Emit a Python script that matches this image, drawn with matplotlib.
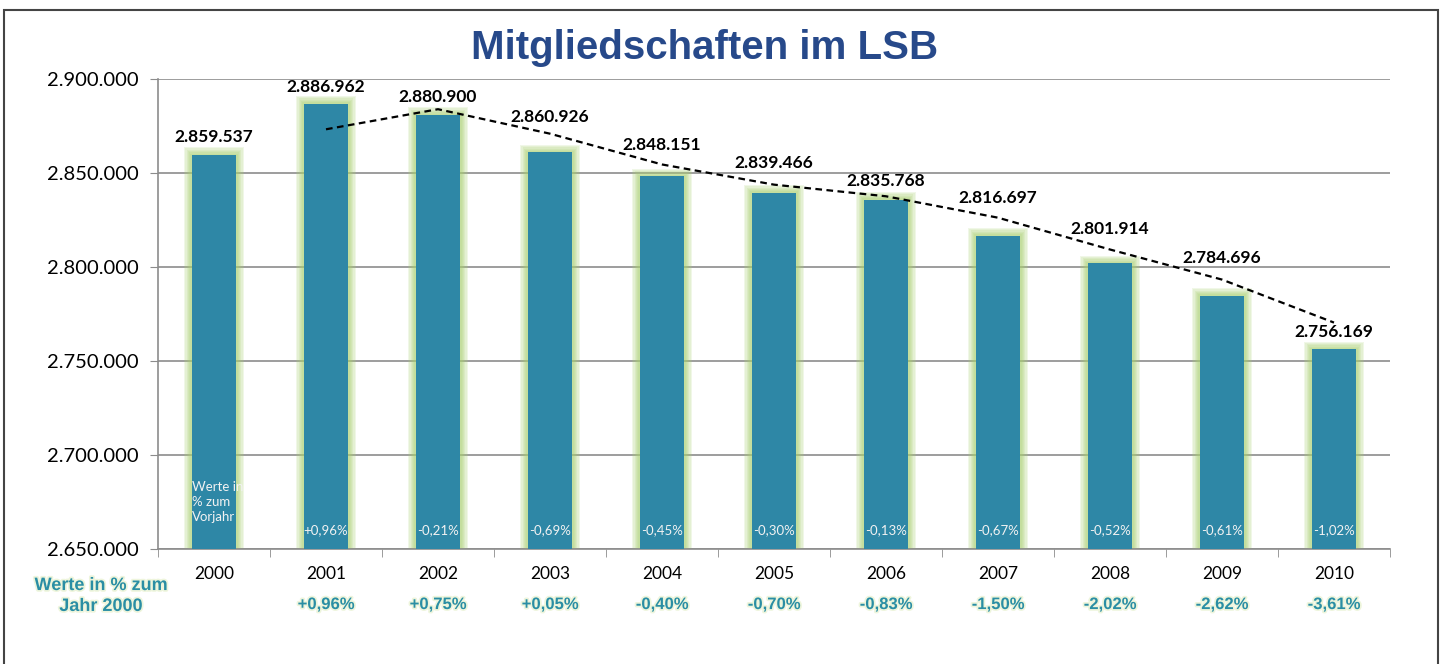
import numpy as np
import matplotlib.pyplot as plt
import matplotlib.patheffects as pe
from matplotlib.patches import Rectangle
from matplotlib.ticker import FuncFormatter, FixedLocator

# data
years = ['2000', '2001', '2002', '2003', '2004', '2005', '2006', '2007', '2008', '2009', '2010']
members = [2859537, 2886962, 2880900, 2860926, 2848151, 2839466, 2835768,
           2816697, 2801914, 2784696, 2756169]
pct_prev_year = ['', '+0,96%', '-0,21%', '-0,69%', '-0,45%', '-0,30%', '-0,13%',
                 '-0,67%', '-0,52%', '-0,61%', '-1,02%']
pct_since_2000 = ['', '+0,96%', '+0,75%', '+0,05%', '-0,40%', '-0,70%', '-0,83%',
                  '-1,50%', '-2,02%', '-2,62%', '-3,61%']

# how far above the bar top each value label sits (px), as placed in the original
label_lift_px = [18, 17, 18, 35, 31, 30, 19, 38, 34, 38, 17]

BAR = '#2e87a6'
TEAL = '#2a8ea4'
TITLE = '#27498a'
ymin, ymax = 2650000, 2900000

fig = plt.figure(figsize=(14.45, 6.64), dpi=100)
ax = fig.add_axes([158 / 1445, 1 - 549 / 664, (1390 - 158) / 1445, (549 - 79) / 664])

x = np.arange(len(years))
heights = np.array(members) - ymin

# soft green glow behind the bars, built from a few faint wider layers
for k in range(6, 0, -1):
    ax.bar(x, heights + 700 * k, width=0.40 + 0.022 * k, bottom=ymin,
           color='#a9d072', alpha=0.17, lw=0, zorder=2)
ax.bar(x, heights, width=0.40, bottom=ymin, color=BAR, lw=0, zorder=3)

# 2-period moving average trendline
trend = [(members[i - 1] + members[i]) / 2 for i in range(1, len(members))]
ax.plot(x[1:], trend, color='black', lw=1.6, ls=(0, (3, 2)), zorder=5)

# value labels on top
for i, v in enumerate(members):
    ax.annotate(f'{v:,}'.replace(',', '.'), (i, v), xytext=(0, label_lift_px[i] * 0.72),
                textcoords='offset points', ha='center', va='center',
                fontsize=12.5, fontweight='bold', family='Lato', color='black', zorder=6)

# yearly change inside the bars
for i, s in enumerate(pct_prev_year):
    if s:
        ax.annotate(s, (i, 0), xycoords=('data', 'axes fraction'), xytext=(0, 13.5),
                    textcoords='offset points', ha='center', va='center',
                    fontsize=9.5, family='Lato', color='#f2f2f2', zorder=6)
ax.annotate('Werte in\n% zum\nVorjahr', (-0.2, 0), xycoords=('data', 'axes fraction'),
            xytext=(0, 34), textcoords='offset points', ha='left', va='center',
            fontsize=9.5, family='Lato', color='#f2f2f2', linespacing=1.3, zorder=6)

# change since 2000 under the years
glow = [pe.withStroke(linewidth=2.5, foreground='#eef5dc')]
for i, s in enumerate(pct_since_2000):
    if s:
        ax.annotate(s, (i, 0), xycoords=('data', 'axes fraction'), xytext=(0, -40),
                    textcoords='offset points', ha='center', va='center',
                    fontsize=12, fontweight='bold', family='Liberation Sans',
                    color=TEAL, path_effects=glow)
fig.text(101 / 1445, 1 - 596 / 664, 'Werte in % zum\nJahr 2000', ha='center', va='center',
         fontsize=13, fontweight='bold', family='Liberation Sans', color=TEAL,
         linespacing=1.3, path_effects=glow)

# axes styling
ax.set_xlim(-0.5, len(years) - 0.5)
ax.set_ylim(ymin, ymax)
ax.set_yticks(np.arange(ymin, ymax + 1, 50000))
ax.yaxis.set_major_formatter(FuncFormatter(lambda v, p: f'{int(v):,}'.replace(',', '.')))
ax.set_xticks(x)
ax.set_xticklabels(years)
ax.xaxis.set_minor_locator(FixedLocator(np.arange(-0.5, len(years), 1.0)))
ax.tick_params(axis='x', which='major', length=0, pad=12, labelsize=12.5)
ax.tick_params(axis='x', which='minor', length=6, color='#8c8c8c', direction='out')
ax.tick_params(axis='y', length=6, color='#8c8c8c', pad=8, labelsize=14.5)
for lbl in ax.get_xticklabels() + ax.get_yticklabels():
    lbl.set_family('Lato')
ax.grid(axis='y', color='#8c8c8c', lw=1.2, zorder=1)
ax.set_axisbelow(True)
for side in ['top', 'right']:
    ax.spines[side].set_visible(False)
for side in ['left', 'bottom']:
    ax.spines[side].set_color('#8c8c8c')
    ax.spines[side].set_linewidth(1.2)

fig.text(705 / 1445, 1 - 48 / 664, 'Mitgliedschaften im LSB', ha='center', va='center',
         fontsize=29, fontweight='bold', family='Liberation Sans', color=TITLE)

# frame around the whole picture
fig.patches.append(Rectangle((4 / 1445, -0.02), 1434 / 1445, 1.02 - 10 / 664,
                             transform=fig.transFigure, fill=False,
                             edgecolor='#444444', lw=1.5))

fig.savefig('out.png', dpi=100)
